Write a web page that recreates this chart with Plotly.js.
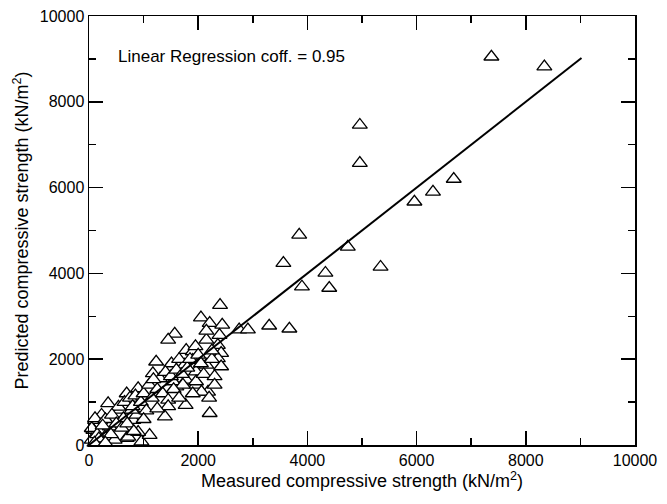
<!DOCTYPE html>
<html><head><meta charset="utf-8">
<script src="https://cdn.plot.ly/plotly-3.0.1.min.js"></script>
<style>html,body{margin:0;padding:0;background:#fff}#chart{width:667px;height:504px}</style>
</head><body><div id="chart"></div>
<script>
// Measured compressive strength (kN/m2)
const measured = [
 7370, 8340, 4960, 4960, 6680, 6300, 5960, 3850, 3560, 4740, 5340, 4330, 4400, 3900, 3300, 3670,
 2400, 2050, 2210, 2440, 2750, 2910, 1570, 1450, 2150, 2390, 2150, 1780, 1900, 2360, 2420, 2360,
 2420, 2150, 1230, 1510, 1170, 1750, 1780, 1960, 2180, 2060, 1600, 900, 690, 350, 570, 930,
 810, 1390, 1770, 2210, 230, 110, 80, 690, 960, 1110, 1900, 1960, 1540, 1720, 1960, 870,
 630, 780, 540, 380, 290, 720, 50, 50, 470, 110,
 150, 200, 300, 420, 500, 600, 650, 750, 800, 850, 950, 1000, 1050, 1100, 1150, 1250,
 1300, 1350, 1400, 1450, 1500, 1550, 1600, 1650, 1700, 1800, 1850, 1950, 2000, 2050, 2100, 2250,
 2300, 2250, 2300, 2200, 1900, 1650, 1450, 1250, 1000, 900, 400, 250, 180, 100, 300, 700, 820, 1180
];
// Predicted compressive strength (kN/m2)
const predicted = [
 9050, 8820, 7460, 6570, 6200, 5900, 5670, 4900, 4240, 4620, 4150, 4010, 3660, 3690, 2780, 2710,
 3260, 2970, 2840, 2800, 2690, 2690, 2590, 2450, 2450, 2560, 2660, 2210, 2180, 2330, 2140, 2020,
 1830, 1870, 1940, 1900, 1670, 1870, 1520, 1400, 1240, 1240, 1360, 1320, 1200, 970, 820, 620,
 580, 660, 930, 740, 700, 580, 350, 160, 80, 230, 1980, 1710, 1480, 1400, 1480, 700,
 620, 820, 890, 430, 190, 190, 390, 120, 120, 620,
 250, 100, 600, 700, 500, 400, 1000, 1100, 900, 1150, 1000, 1200, 800, 1400, 1100, 1300,
 1550, 1200, 1700, 1050, 1600, 1300, 1750, 2000, 1650, 1800, 2000, 2300, 2100, 1900, 1650, 2000,
 1600, 2200, 1400, 1100, 1200, 1100, 900, 850, 600, 300, 250, 450, 150, 50, 50, 500, 320, 1530
];
// Regression line end points
const fitX = [0, 9020];
const fitY = [0, 9020];
const annotationText = 'Linear Regression coff. = 0.95';
const tickVals = [0, 2000, 4000, 6000, 8000, 10000];
const tickText = ['0', '2000', '4000', '6000', '8000', '10000'];

const font = {family: 'Liberation Sans, Arial, sans-serif', color: '#000'};
const axisCommon = {
  range: [0, 10000], showgrid: false, zeroline: false,
  showline: true, linecolor: '#000', linewidth: 1.5, mirror: 'allticks',
  ticks: 'inside', ticklen: 14, tickwidth: 1.5, tickcolor: '#000',
  tickmode: 'array', tickvals: tickVals, ticktext: tickText,
  tickfont: Object.assign({size: 16}, font),
  minor: {dtick: 1000, tick0: 0, ticks: 'inside', ticklen: 7, tickwidth: 1.5, tickcolor: '#000'}
};

const data = [
  {x: measured, y: predicted, type: 'scatter', mode: 'markers',
   marker: {symbol: 'triangle-up', size: 13, color: '#fff', line: {color: '#000', width: 1.3}},
   hoverinfo: 'none', cliponaxis: false},
  {x: fitX, y: fitY, type: 'scatter', mode: 'lines', line: {color: '#000', width: 2}, hoverinfo: 'none'}
];
const layout = {
  width: 667, height: 504, showlegend: false,
  paper_bgcolor: '#fff', plot_bgcolor: '#fff',
  margin: {l: 89, r: 32, t: 16, b: 59},
  xaxis: Object.assign({}, axisCommon, {
    title: {text: 'Measured compressive strength (kN/m<sup>2</sup>)', font: Object.assign({size: 18}, font), standoff: 3}
  }),
  yaxis: Object.assign({}, axisCommon, {
    title: {text: 'Predicted compressive strength (kN/m<sup>2</sup>)', font: Object.assign({size: 18}, font), standoff: 6}
  }),
  annotations: [{
    text: annotationText, xref: 'paper', yref: 'paper', x: 0.05, y: 0.905,
    xanchor: 'left', yanchor: 'middle', showarrow: false, font: Object.assign({size: 17}, font)
  }]
};
Plotly.newPlot('chart', data, layout, {staticPlot: true, displayModeBar: false});
</script></body></html>
